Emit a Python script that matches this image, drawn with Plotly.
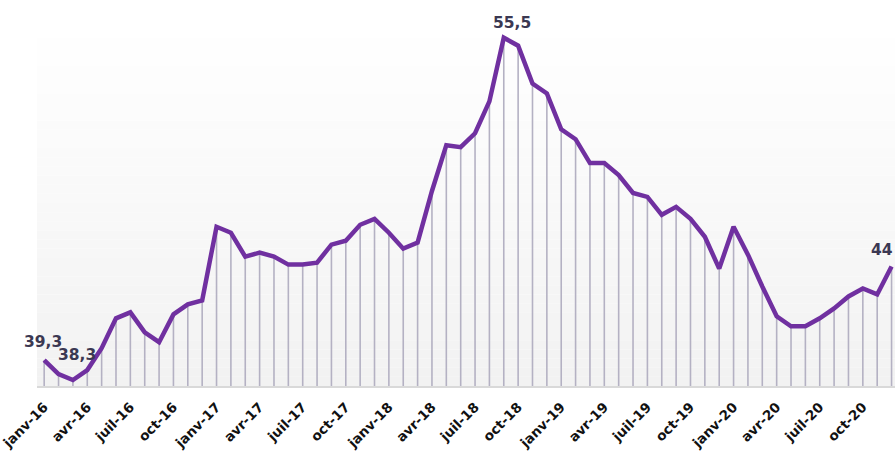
import plotly.graph_objects as go

# ---- data ----
months = [
    "janv-16","févr-16","mars-16","avr-16","mai-16","juin-16","juil-16","août-16","sept-16","oct-16","nov-16","déc-16",
    "janv-17","févr-17","mars-17","avr-17","mai-17","juin-17","juil-17","août-17","sept-17","oct-17","nov-17","déc-17",
    "janv-18","févr-18","mars-18","avr-18","mai-18","juin-18","juil-18","août-18","sept-18","oct-18","nov-18","déc-18",
    "janv-19","févr-19","mars-19","avr-19","mai-19","juin-19","juil-19","août-19","sept-19","oct-19","nov-19","déc-19",
    "janv-20","févr-20","mars-20","avr-20","mai-20","juin-20","juil-20","août-20","sept-20","oct-20","nov-20","déc-20",
]
values = [
    39.3, 38.6, 38.3, 38.8, 39.9, 41.4, 41.7, 40.7, 40.2, 41.6, 42.1, 42.3,
    46.0, 45.7, 44.5, 44.7, 44.5, 44.1, 44.1, 44.2, 45.1, 45.3, 46.1, 46.4,
    45.7, 44.9, 45.2, 47.8, 50.1, 50.0, 50.7, 52.3, 55.5, 55.1, 53.2, 52.7,
    50.9, 50.4, 49.2, 49.2, 48.6, 47.7, 47.5, 46.6, 47.0, 46.4, 45.5, 43.9,
    46.0, 44.6, 43.0, 41.5, 41.0, 41.0, 41.4, 41.9, 42.5, 42.9, 42.6, 44.0,
]
tick_labels = ["janv-16","avr-16","juil-16","oct-16","janv-17","avr-17","juil-17","oct-17",
               "janv-18","avr-18","juil-18","oct-18","janv-19","avr-19","juil-19","oct-19",
               "janv-20","avr-20","juil-20","oct-20"]
label_months = ["janv-16", "mars-16", "sept-18", "déc-20"]
label_texts = ["39,3", "38,3", "55,5", "44"]

Y_MIN = 38.0
Y_MAX = 56.39

xs = list(range(len(months)))
tick_vals = [months.index(t) for t in tick_labels]

fig = go.Figure()

# drop lines (error bars down to axis)
fig.add_trace(go.Scatter(
    x=xs, y=values, mode="markers",
    marker=dict(size=1, color="rgba(0,0,0,0)"),
    error_y=dict(type="data", symmetric=False,
                 array=[0] * len(values),
                 arrayminus=[v - Y_MIN for v in values],
                 width=0, thickness=1.6, color="#b4b1c3"),
    hoverinfo="skip", showlegend=False,
))

# main line
fig.add_trace(go.Scatter(
    x=xs, y=values, mode="lines",
    line=dict(color="#7030a0", width=4.5),
    showlegend=False,
))

# gradient background
n = 40
shapes = []
for k in range(n):
    t = k / (n - 1)
    c = round(255 - 13 * (1 - t))
    shapes.append(dict(type="rect", xref="paper", yref="paper",
                       x0=0, x1=1, y0=k / n, y1=(k + 1) / n,
                       fillcolor=f"rgb({c},{c},{c})", line=dict(width=0),
                       layer="below"))

shifts = [(-1, 18), (4, 25), (8, 15), (-10, 17)]
annotations = []
for m, txt, (dx, dy) in zip(label_months, label_texts, shifts):
    i = months.index(m)
    annotations.append(dict(
        x=i, y=values[i], text=txt, showarrow=False,
        xshift=dx, yshift=dy,
        font=dict(family="DejaVu Sans", size=15.5, color="#3b3852", weight="bold"),
    ))

fig.update_layout(
    width=895, height=454,
    margin=dict(l=37, r=0, t=20, b=68, autoexpand=False),
    paper_bgcolor="white", plot_bgcolor="white",
    shapes=shapes, annotations=annotations,
    xaxis=dict(
        range=[-0.5, 59.24], tickvals=tick_vals, ticktext=tick_labels,
        tickangle=-45, showgrid=False, zeroline=False, automargin=False,
        ticklabeloverflow="allow", ticklabelstandoff=6,
        showline=True, linecolor="#d9d9d9", linewidth=2,
        ticks="", tickfont=dict(family="DejaVu Sans", size=13.5, color="#111111", weight="bold"),
    ),
    yaxis=dict(range=[Y_MIN, Y_MAX], visible=False, showgrid=False, zeroline=False, automargin=False),
)

fig.write_html(
    "out.html",
    config={"displayModeBar": False},
    post_script="document.body.style.margin='0';document.body.style.overflow='hidden';",
)
